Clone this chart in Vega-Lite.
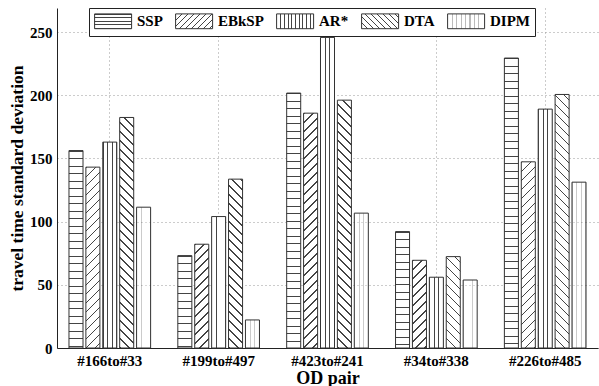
{
  "$schema": "https://vega.github.io/schema/vega-lite/v6.json",
  "autosize": {"type": "none"},
  "padding": {"left": 57, "top": 8, "right": 1, "bottom": 38},
  "width": 541,
  "height": 340,
  "background": "white",
  "params": [
    {"name": "st", "value": [
      {"offset":0,"color":"#fff"},{"offset":0,"color":"#444"},{"offset":0.0045,"color":"#444"},{"offset":0.0045,"color":"#fff"},
      {"offset":0.025,"color":"#fff"},{"offset":0.025,"color":"#444"},{"offset":0.0295,"color":"#444"},{"offset":0.0295,"color":"#fff"},
      {"offset":0.05,"color":"#fff"},{"offset":0.05,"color":"#444"},{"offset":0.0545,"color":"#444"},{"offset":0.0545,"color":"#fff"},
      {"offset":0.075,"color":"#fff"},{"offset":0.075,"color":"#444"},{"offset":0.0795,"color":"#444"},{"offset":0.0795,"color":"#fff"},
      {"offset":0.1,"color":"#fff"},{"offset":0.1,"color":"#444"},{"offset":0.1045,"color":"#444"},{"offset":0.1045,"color":"#fff"},
      {"offset":0.125,"color":"#fff"},{"offset":0.125,"color":"#444"},{"offset":0.1295,"color":"#444"},{"offset":0.1295,"color":"#fff"},
      {"offset":0.15,"color":"#fff"},{"offset":0.15,"color":"#444"},{"offset":0.1545,"color":"#444"},{"offset":0.1545,"color":"#fff"},
      {"offset":0.175,"color":"#fff"},{"offset":0.175,"color":"#444"},{"offset":0.1795,"color":"#444"},{"offset":0.1795,"color":"#fff"},
      {"offset":0.2,"color":"#fff"},{"offset":0.2,"color":"#444"},{"offset":0.2045,"color":"#444"},{"offset":0.2045,"color":"#fff"},
      {"offset":0.225,"color":"#fff"},{"offset":0.225,"color":"#444"},{"offset":0.2295,"color":"#444"},{"offset":0.2295,"color":"#fff"},
      {"offset":0.25,"color":"#fff"},{"offset":0.25,"color":"#444"},{"offset":0.2545,"color":"#444"},{"offset":0.2545,"color":"#fff"},
      {"offset":0.275,"color":"#fff"},{"offset":0.275,"color":"#444"},{"offset":0.2795,"color":"#444"},{"offset":0.2795,"color":"#fff"},
      {"offset":0.3,"color":"#fff"},{"offset":0.3,"color":"#444"},{"offset":0.3045,"color":"#444"},{"offset":0.3045,"color":"#fff"},
      {"offset":0.325,"color":"#fff"},{"offset":0.325,"color":"#444"},{"offset":0.3295,"color":"#444"},{"offset":0.3295,"color":"#fff"},
      {"offset":0.35,"color":"#fff"},{"offset":0.35,"color":"#444"},{"offset":0.3545,"color":"#444"},{"offset":0.3545,"color":"#fff"},
      {"offset":0.375,"color":"#fff"},{"offset":0.375,"color":"#444"},{"offset":0.3795,"color":"#444"},{"offset":0.3795,"color":"#fff"},
      {"offset":0.4,"color":"#fff"},{"offset":0.4,"color":"#444"},{"offset":0.4045,"color":"#444"},{"offset":0.4045,"color":"#fff"},
      {"offset":0.425,"color":"#fff"},{"offset":0.425,"color":"#444"},{"offset":0.4295,"color":"#444"},{"offset":0.4295,"color":"#fff"},
      {"offset":0.45,"color":"#fff"},{"offset":0.45,"color":"#444"},{"offset":0.4545,"color":"#444"},{"offset":0.4545,"color":"#fff"},
      {"offset":0.475,"color":"#fff"},{"offset":0.475,"color":"#444"},{"offset":0.4795,"color":"#444"},{"offset":0.4795,"color":"#fff"},
      {"offset":0.5,"color":"#fff"},{"offset":0.5,"color":"#444"},{"offset":0.5045,"color":"#444"},{"offset":0.5045,"color":"#fff"},
      {"offset":0.525,"color":"#fff"},{"offset":0.525,"color":"#444"},{"offset":0.5295,"color":"#444"},{"offset":0.5295,"color":"#fff"},
      {"offset":0.55,"color":"#fff"},{"offset":0.55,"color":"#444"},{"offset":0.5545,"color":"#444"},{"offset":0.5545,"color":"#fff"},
      {"offset":0.575,"color":"#fff"},{"offset":0.575,"color":"#444"},{"offset":0.5795,"color":"#444"},{"offset":0.5795,"color":"#fff"},
      {"offset":0.6,"color":"#fff"},{"offset":0.6,"color":"#444"},{"offset":0.6045,"color":"#444"},{"offset":0.6045,"color":"#fff"},
      {"offset":0.625,"color":"#fff"},{"offset":0.625,"color":"#444"},{"offset":0.6295,"color":"#444"},{"offset":0.6295,"color":"#fff"},
      {"offset":0.65,"color":"#fff"},{"offset":0.65,"color":"#444"},{"offset":0.6545,"color":"#444"},{"offset":0.6545,"color":"#fff"},
      {"offset":0.675,"color":"#fff"},{"offset":0.675,"color":"#444"},{"offset":0.6795,"color":"#444"},{"offset":0.6795,"color":"#fff"},
      {"offset":0.7,"color":"#fff"},{"offset":0.7,"color":"#444"},{"offset":0.7045,"color":"#444"},{"offset":0.7045,"color":"#fff"},
      {"offset":0.725,"color":"#fff"},{"offset":0.725,"color":"#444"},{"offset":0.7295,"color":"#444"},{"offset":0.7295,"color":"#fff"},
      {"offset":0.75,"color":"#fff"},{"offset":0.75,"color":"#444"},{"offset":0.7545,"color":"#444"},{"offset":0.7545,"color":"#fff"},
      {"offset":0.775,"color":"#fff"},{"offset":0.775,"color":"#444"},{"offset":0.7795,"color":"#444"},{"offset":0.7795,"color":"#fff"},
      {"offset":0.8,"color":"#fff"},{"offset":0.8,"color":"#444"},{"offset":0.8045,"color":"#444"},{"offset":0.8045,"color":"#fff"},
      {"offset":0.825,"color":"#fff"},{"offset":0.825,"color":"#444"},{"offset":0.8295,"color":"#444"},{"offset":0.8295,"color":"#fff"},
      {"offset":0.85,"color":"#fff"},{"offset":0.85,"color":"#444"},{"offset":0.8545,"color":"#444"},{"offset":0.8545,"color":"#fff"},
      {"offset":0.875,"color":"#fff"},{"offset":0.875,"color":"#444"},{"offset":0.8795,"color":"#444"},{"offset":0.8795,"color":"#fff"},
      {"offset":0.9,"color":"#fff"},{"offset":0.9,"color":"#444"},{"offset":0.9045,"color":"#444"},{"offset":0.9045,"color":"#fff"},
      {"offset":0.925,"color":"#fff"},{"offset":0.925,"color":"#444"},{"offset":0.9295,"color":"#444"},{"offset":0.9295,"color":"#fff"},
      {"offset":0.95,"color":"#fff"},{"offset":0.95,"color":"#444"},{"offset":0.9545,"color":"#444"},{"offset":0.9545,"color":"#fff"},
      {"offset":0.975,"color":"#fff"},{"offset":0.975,"color":"#444"},{"offset":0.9795,"color":"#444"},{"offset":0.9795,"color":"#fff"}
    ]}
  ],
  "data": {"values": [
    {"pair":"#166to#33","method":"SSP","value":156.2},
    {"pair":"#166to#33","method":"EBkSP","value":143.1},
    {"pair":"#166to#33","method":"AR*","value":162.9},
    {"pair":"#166to#33","method":"DTA","value":182.4},
    {"pair":"#166to#33","method":"DIPM","value":111.4},
    {"pair":"#199to#497","method":"SSP","value":73.1},
    {"pair":"#199to#497","method":"EBkSP","value":82.1},
    {"pair":"#199to#497","method":"AR*","value":104.0},
    {"pair":"#199to#497","method":"DTA","value":133.6},
    {"pair":"#199to#497","method":"DIPM","value":22.2},
    {"pair":"#423to#241","method":"SSP","value":201.7},
    {"pair":"#423to#241","method":"EBkSP","value":185.8},
    {"pair":"#423to#241","method":"AR*","value":245.7},
    {"pair":"#423to#241","method":"DTA","value":196.1},
    {"pair":"#423to#241","method":"DIPM","value":106.7},
    {"pair":"#34to#338","method":"SSP","value":92.1},
    {"pair":"#34to#338","method":"EBkSP","value":69.4},
    {"pair":"#34to#338","method":"AR*","value":56.0},
    {"pair":"#34to#338","method":"DTA","value":72.3},
    {"pair":"#34to#338","method":"DIPM","value":53.8},
    {"pair":"#226to#485","method":"SSP","value":229.4},
    {"pair":"#226to#485","method":"EBkSP","value":147.3},
    {"pair":"#226to#485","method":"AR*","value":189.0},
    {"pair":"#226to#485","method":"DTA","value":200.6},
    {"pair":"#226to#485","method":"DIPM","value":131.2}
  ]},
  "mark": {"type": "bar", "stroke": "#333", "strokeWidth": 1},
  "encoding": {
    "x": {
      "field": "pair", "type": "nominal", "sort": null,
      "scale": {"paddingInner": 0.25, "paddingOuter": 0.11},
      "title": "OD pair",
      "axis": {
        "bandPosition": 0.5, "grid": true, "gridDash": [1, 3], "gridColor": "#999", "gridWidth": 1,
        "ticks": false, "domain": true, "domainColor": "#222", "labelAngle": 0, "labelPadding": 5,
        "labelFont": "Liberation Serif", "labelFontWeight": "bold", "labelFontSize": 15, "labelColor": "black",
        "titleFont": "Liberation Serif", "titleFontWeight": "bold", "titleFontSize": 18, "titleColor": "black", "titlePadding": 1
      }
    },
    "xOffset": {
      "field": "method", "type": "nominal",
      "scale": {"domain": ["SSP", "EBkSP", "AR*", "DTA", "DIPM"], "paddingInner": 0.17, "paddingOuter": 0}
    },
    "y": {
      "field": "value", "type": "quantitative",
      "scale": {"domain": [0, 269], "nice": false},
      "title": "travel time standard deviation",
      "axis": {
        "values": [0, 50, 100, 150, 200, 250], "grid": true, "gridDash": [1, 3], "gridColor": "#999", "gridWidth": 1,
        "ticks": false, "domain": true, "domainColor": "#222", "labelPadding": 5,
        "labelFont": "Liberation Serif", "labelFontWeight": "bold", "labelFontSize": 15, "labelColor": "black",
        "titleFont": "Liberation Serif", "titleFontWeight": "bold", "titleFontSize": 17.5, "titleColor": "black", "titlePadding": 3
      }
    },
    "fillOpacity": {"condition": {"test": "datum.method=='DIPM'", "value": 0.28}, "value": 1},
    "fill": {
      "field": "method", "type": "nominal",
      "scale": {
        "domain": ["SSP", "EBkSP", "AR*", "DTA", "DIPM"],
        "range": [
          {"expr": "{id:'lgssp',gradient:'linear',x1:0,y1:0,x2:0,y2:9.46,stops:st}"},
          {"expr": "{id:'lgeb',gradient:'linear',x1:0,y1:0,x2:5.59,y2:2.24,stops:st}"},
          {"expr": "{id:'lgarx',gradient:'linear',x1:0,y1:0,x2:1,y2:0,stops:[{offset:0.1,color:'#fff'},{offset:0.1,color:'#444'},{offset:0.125,color:'#444'},{offset:0.125,color:'#fff'},{offset:0.2,color:'#fff'},{offset:0.2,color:'#444'},{offset:0.225,color:'#444'},{offset:0.225,color:'#fff'},{offset:0.3,color:'#fff'},{offset:0.3,color:'#444'},{offset:0.325,color:'#444'},{offset:0.325,color:'#fff'},{offset:0.4,color:'#fff'},{offset:0.4,color:'#444'},{offset:0.425,color:'#444'},{offset:0.425,color:'#fff'},{offset:0.5,color:'#fff'},{offset:0.5,color:'#444'},{offset:0.525,color:'#444'},{offset:0.525,color:'#fff'},{offset:0.6,color:'#fff'},{offset:0.6,color:'#444'},{offset:0.625,color:'#444'},{offset:0.625,color:'#fff'},{offset:0.7,color:'#fff'},{offset:0.7,color:'#444'},{offset:0.725,color:'#444'},{offset:0.725,color:'#fff'},{offset:0.8,color:'#fff'},{offset:0.8,color:'#444'},{offset:0.825,color:'#444'},{offset:0.825,color:'#fff'},{offset:0.9,color:'#fff'},{offset:0.9,color:'#444'},{offset:0.925,color:'#444'},{offset:0.925,color:'#fff'}]}"},
          {"expr": "{id:'lgdta',gradient:'linear',x1:0,y1:1,x2:5.59,y2:-1.24,stops:st}"},
          {"expr": "{id:'lgdipm',gradient:'linear',x1:0,y1:0,x2:1,y2:0,stops:[{offset:0.11,color:'#fff'},{offset:0.11,color:'#bbb'},{offset:0.14,color:'#bbb'},{offset:0.14,color:'#fff'},{offset:0.23,color:'#fff'},{offset:0.23,color:'#bbb'},{offset:0.26,color:'#bbb'},{offset:0.26,color:'#fff'},{offset:0.35,color:'#fff'},{offset:0.35,color:'#bbb'},{offset:0.38,color:'#bbb'},{offset:0.38,color:'#fff'},{offset:0.47,color:'#fff'},{offset:0.47,color:'#bbb'},{offset:0.5,color:'#bbb'},{offset:0.5,color:'#fff'},{offset:0.59,color:'#fff'},{offset:0.59,color:'#bbb'},{offset:0.62,color:'#bbb'},{offset:0.62,color:'#fff'},{offset:0.71,color:'#fff'},{offset:0.71,color:'#bbb'},{offset:0.74,color:'#bbb'},{offset:0.74,color:'#fff'},{offset:0.83,color:'#fff'},{offset:0.83,color:'#bbb'},{offset:0.86,color:'#bbb'},{offset:0.86,color:'#fff'}]}"}
        ]
      },
      "condition": {
        "test": "true",
        "value": {"expr": "datum.method=='SSP' ? {gradient:'linear',x1:0,y1:0,x2:0,y2:300/max(1,scale('y',0)-scale('y',datum.value)),stops:st} : (datum.method=='AR*' || datum.method=='DIPM') ? {gradient:'linear',x1:0,y1:0,x2:180/bandwidth('xOffset'),y2:0,stops:st} : datum.method=='EBkSP' ? {gradient:'linear',x1:0,y1:0,x2:360*bandwidth('xOffset')/(pow(bandwidth('xOffset'),2)+pow(scale('y',0)-scale('y',datum.value),2)),y2:360*(scale('y',0)-scale('y',datum.value))/(pow(bandwidth('xOffset'),2)+pow(scale('y',0)-scale('y',datum.value),2)),stops:st} : datum.method=='DTA' ? {gradient:'linear',x1:0,y1:1,x2:360*bandwidth('xOffset')/(pow(bandwidth('xOffset'),2)+pow(scale('y',0)-scale('y',datum.value),2)),y2:1-360*(scale('y',0)-scale('y',datum.value))/(pow(bandwidth('xOffset'),2)+pow(scale('y',0)-scale('y',datum.value),2)),stops:st} : '#ffffff'"}
      },
      "legend": {
        "title": null, "orient": "none", "legendX": 32, "legendY": 0, "direction": "horizontal", "columns": 5,
        "strokeColor": "#222", "fillColor": "white", "padding": 5, "columnPadding": 10, "labelOffset": 27,
        "symbolType": "M-1,-1H4V1H-1Z", "symbolSize": 219, "symbolStrokeColor": "#333", "symbolStrokeWidth": 1,
        "labelFont": "Liberation Serif", "labelFontWeight": "bold", "labelFontSize": 15, "labelColor": "black"
      }
    }
  },
  "config": {
    "view": {"stroke": null}
  }
}
